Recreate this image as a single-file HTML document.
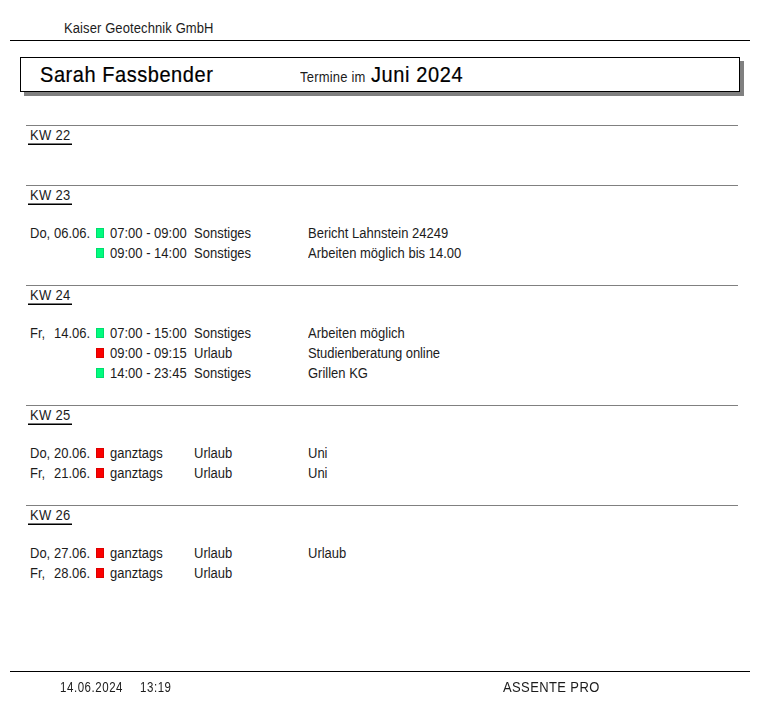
<!DOCTYPE html>
<html><head><meta charset="utf-8"><style>
html,body{margin:0;padding:0;background:#fff;width:780px;height:711px;overflow:hidden;position:relative}
.t{position:absolute;font-family:"Liberation Sans",sans-serif;color:#1c1c1c;white-space:pre}
.r{position:absolute}
</style></head><body>
<div class="t" style="left:64px;top:22px;font-size:13px;line-height:13px;transform-origin:0 11px;transform:scaleY(1.1);letter-spacing:0.1px;">Kaiser Geotechnik GmbH</div>
<div class="r" style="left:10px;top:40px;width:740px;height:1px;background:#000;"></div>
<div class="r" style="left:24px;top:61px;width:720px;height:35px;background:#808080;"></div>
<div class="r" style="left:20px;top:57px;width:720px;height:35px;background:#fff;box-sizing:border-box;border:1px solid #000;"></div>
<div class="t" style="left:40px;top:65px;font-size:20px;line-height:20px;transform-origin:0 17px;transform:scaleY(1.07);letter-spacing:0.55px;-webkit-text-stroke:0.2px #000;color:#000;">Sarah Fassbender</div>
<div class="t" style="left:300px;top:71px;font-size:13px;line-height:13px;transform-origin:0 11px;transform:scaleY(1.1);letter-spacing:0.2px;">Termine im</div>
<div class="t" style="left:371px;top:65px;font-size:20px;line-height:20px;transform-origin:0 17px;transform:scaleY(1.07);letter-spacing:0.6px;-webkit-text-stroke:0.2px #000;color:#000;">Juni 2024</div>
<div class="r" style="left:26px;top:125px;width:712px;height:1px;background:#808080;"></div>
<div class="t" style="left:30px;top:129px;font-size:13px;line-height:13px;transform-origin:0 11px;transform:scaleY(1.1);letter-spacing:0.3px;">KW 22</div>
<div class="r" style="left:28px;top:143px;width:44px;height:1px;background:#7a7a7a;"></div>
<div class="r" style="left:28px;top:144px;width:44px;height:1px;background:#000;"></div>
<div class="r" style="left:26px;top:185px;width:712px;height:1px;background:#808080;"></div>
<div class="t" style="left:30px;top:189px;font-size:13px;line-height:13px;transform-origin:0 11px;transform:scaleY(1.1);letter-spacing:0.3px;">KW 23</div>
<div class="r" style="left:28px;top:203px;width:44px;height:1px;background:#7a7a7a;"></div>
<div class="r" style="left:28px;top:204px;width:44px;height:1px;background:#000;"></div>
<div class="t" style="left:30px;top:227px;font-size:13px;line-height:13px;transform-origin:0 11px;transform:scaleY(1.1);">Do,</div>
<div class="t" style="left:54px;top:227px;font-size:13px;line-height:13px;transform-origin:0 11px;transform:scaleY(1.1);">06.06.</div>
<div class="r" style="left:96px;top:228px;width:8px;height:10px;background:#00fc7e;box-shadow:inset 0 0 0 1px rgba(0,0,0,0.12)"></div>
<div class="t" style="left:110px;top:227px;font-size:13px;line-height:13px;transform-origin:0 11px;transform:scaleY(1.1);">07:00 - 09:00</div>
<div class="t" style="left:194px;top:227px;font-size:13px;line-height:13px;transform-origin:0 11px;transform:scaleY(1.1);">Sonstiges</div>
<div class="t" style="left:308px;top:227px;font-size:13px;line-height:13px;transform-origin:0 11px;transform:scaleY(1.1);">Bericht Lahnstein 24249</div>
<div class="r" style="left:96px;top:248px;width:8px;height:10px;background:#00fc7e;box-shadow:inset 0 0 0 1px rgba(0,0,0,0.12)"></div>
<div class="t" style="left:110px;top:247px;font-size:13px;line-height:13px;transform-origin:0 11px;transform:scaleY(1.1);">09:00 - 14:00</div>
<div class="t" style="left:194px;top:247px;font-size:13px;line-height:13px;transform-origin:0 11px;transform:scaleY(1.1);">Sonstiges</div>
<div class="t" style="left:308px;top:247px;font-size:13px;line-height:13px;transform-origin:0 11px;transform:scaleY(1.1);">Arbeiten möglich bis 14.00</div>
<div class="r" style="left:26px;top:285px;width:712px;height:1px;background:#808080;"></div>
<div class="t" style="left:30px;top:289px;font-size:13px;line-height:13px;transform-origin:0 11px;transform:scaleY(1.1);letter-spacing:0.3px;">KW 24</div>
<div class="r" style="left:28px;top:303px;width:44px;height:1px;background:#7a7a7a;"></div>
<div class="r" style="left:28px;top:304px;width:44px;height:1px;background:#000;"></div>
<div class="t" style="left:30px;top:327px;font-size:13px;line-height:13px;transform-origin:0 11px;transform:scaleY(1.1);">Fr,</div>
<div class="t" style="left:54px;top:327px;font-size:13px;line-height:13px;transform-origin:0 11px;transform:scaleY(1.1);">14.06.</div>
<div class="r" style="left:96px;top:328px;width:8px;height:10px;background:#00fc7e;box-shadow:inset 0 0 0 1px rgba(0,0,0,0.12)"></div>
<div class="t" style="left:110px;top:327px;font-size:13px;line-height:13px;transform-origin:0 11px;transform:scaleY(1.1);">07:00 - 15:00</div>
<div class="t" style="left:194px;top:327px;font-size:13px;line-height:13px;transform-origin:0 11px;transform:scaleY(1.1);">Sonstiges</div>
<div class="t" style="left:308px;top:327px;font-size:13px;line-height:13px;transform-origin:0 11px;transform:scaleY(1.1);">Arbeiten möglich</div>
<div class="r" style="left:96px;top:348px;width:8px;height:10px;background:#fc0000;box-shadow:inset 0 0 0 1px rgba(0,0,0,0.12)"></div>
<div class="t" style="left:110px;top:347px;font-size:13px;line-height:13px;transform-origin:0 11px;transform:scaleY(1.1);">09:00 - 09:15</div>
<div class="t" style="left:194px;top:347px;font-size:13px;line-height:13px;transform-origin:0 11px;transform:scaleY(1.1);">Urlaub</div>
<div class="t" style="left:308px;top:347px;font-size:13px;line-height:13px;transform-origin:0 11px;transform:scaleY(1.1);letter-spacing:-0.08px;">Studienberatung online</div>
<div class="r" style="left:96px;top:368px;width:8px;height:10px;background:#00fc7e;box-shadow:inset 0 0 0 1px rgba(0,0,0,0.12)"></div>
<div class="t" style="left:110px;top:367px;font-size:13px;line-height:13px;transform-origin:0 11px;transform:scaleY(1.1);">14:00 - 23:45</div>
<div class="t" style="left:194px;top:367px;font-size:13px;line-height:13px;transform-origin:0 11px;transform:scaleY(1.1);">Sonstiges</div>
<div class="t" style="left:308px;top:367px;font-size:13px;line-height:13px;transform-origin:0 11px;transform:scaleY(1.1);">Grillen KG</div>
<div class="r" style="left:26px;top:405px;width:712px;height:1px;background:#808080;"></div>
<div class="t" style="left:30px;top:409px;font-size:13px;line-height:13px;transform-origin:0 11px;transform:scaleY(1.1);letter-spacing:0.3px;">KW 25</div>
<div class="r" style="left:28px;top:423px;width:44px;height:1px;background:#7a7a7a;"></div>
<div class="r" style="left:28px;top:424px;width:44px;height:1px;background:#000;"></div>
<div class="t" style="left:30px;top:447px;font-size:13px;line-height:13px;transform-origin:0 11px;transform:scaleY(1.1);">Do,</div>
<div class="t" style="left:54px;top:447px;font-size:13px;line-height:13px;transform-origin:0 11px;transform:scaleY(1.1);">20.06.</div>
<div class="r" style="left:96px;top:448px;width:8px;height:10px;background:#fc0000;box-shadow:inset 0 0 0 1px rgba(0,0,0,0.12)"></div>
<div class="t" style="left:110px;top:447px;font-size:13px;line-height:13px;transform-origin:0 11px;transform:scaleY(1.1);">ganztags</div>
<div class="t" style="left:194px;top:447px;font-size:13px;line-height:13px;transform-origin:0 11px;transform:scaleY(1.1);">Urlaub</div>
<div class="t" style="left:308px;top:447px;font-size:13px;line-height:13px;transform-origin:0 11px;transform:scaleY(1.1);">Uni</div>
<div class="t" style="left:30px;top:467px;font-size:13px;line-height:13px;transform-origin:0 11px;transform:scaleY(1.1);">Fr,</div>
<div class="t" style="left:54px;top:467px;font-size:13px;line-height:13px;transform-origin:0 11px;transform:scaleY(1.1);">21.06.</div>
<div class="r" style="left:96px;top:468px;width:8px;height:10px;background:#fc0000;box-shadow:inset 0 0 0 1px rgba(0,0,0,0.12)"></div>
<div class="t" style="left:110px;top:467px;font-size:13px;line-height:13px;transform-origin:0 11px;transform:scaleY(1.1);">ganztags</div>
<div class="t" style="left:194px;top:467px;font-size:13px;line-height:13px;transform-origin:0 11px;transform:scaleY(1.1);">Urlaub</div>
<div class="t" style="left:308px;top:467px;font-size:13px;line-height:13px;transform-origin:0 11px;transform:scaleY(1.1);">Uni</div>
<div class="r" style="left:26px;top:505px;width:712px;height:1px;background:#808080;"></div>
<div class="t" style="left:30px;top:509px;font-size:13px;line-height:13px;transform-origin:0 11px;transform:scaleY(1.1);letter-spacing:0.3px;">KW 26</div>
<div class="r" style="left:28px;top:523px;width:44px;height:1px;background:#7a7a7a;"></div>
<div class="r" style="left:28px;top:524px;width:44px;height:1px;background:#000;"></div>
<div class="t" style="left:30px;top:547px;font-size:13px;line-height:13px;transform-origin:0 11px;transform:scaleY(1.1);">Do,</div>
<div class="t" style="left:54px;top:547px;font-size:13px;line-height:13px;transform-origin:0 11px;transform:scaleY(1.1);">27.06.</div>
<div class="r" style="left:96px;top:548px;width:8px;height:10px;background:#fc0000;box-shadow:inset 0 0 0 1px rgba(0,0,0,0.12)"></div>
<div class="t" style="left:110px;top:547px;font-size:13px;line-height:13px;transform-origin:0 11px;transform:scaleY(1.1);">ganztags</div>
<div class="t" style="left:194px;top:547px;font-size:13px;line-height:13px;transform-origin:0 11px;transform:scaleY(1.1);">Urlaub</div>
<div class="t" style="left:308px;top:547px;font-size:13px;line-height:13px;transform-origin:0 11px;transform:scaleY(1.1);">Urlaub</div>
<div class="t" style="left:30px;top:567px;font-size:13px;line-height:13px;transform-origin:0 11px;transform:scaleY(1.1);">Fr,</div>
<div class="t" style="left:54px;top:567px;font-size:13px;line-height:13px;transform-origin:0 11px;transform:scaleY(1.1);">28.06.</div>
<div class="r" style="left:96px;top:568px;width:8px;height:10px;background:#fc0000;box-shadow:inset 0 0 0 1px rgba(0,0,0,0.12)"></div>
<div class="t" style="left:110px;top:567px;font-size:13px;line-height:13px;transform-origin:0 11px;transform:scaleY(1.1);">ganztags</div>
<div class="t" style="left:194px;top:567px;font-size:13px;line-height:13px;transform-origin:0 11px;transform:scaleY(1.1);">Urlaub</div>
<div class="r" style="left:10px;top:671px;width:740px;height:1px;background:#000;"></div>
<div class="t" style="left:60px;top:683px;font-size:11.5px;line-height:11.5px;transform-origin:0 10px;transform:scaleY(1.2);letter-spacing:0.55px;will-change:transform;">14.06.2024</div>
<div class="t" style="left:140px;top:683px;font-size:11.5px;line-height:11.5px;transform-origin:0 10px;transform:scaleY(1.2);letter-spacing:0.55px;will-change:transform;">13:19</div>
<div class="t" style="left:503px;top:681px;font-size:13px;line-height:13px;transform-origin:0 11px;transform:scaleY(1.1);letter-spacing:0.38px;will-change:transform;">ASSENTE PRO</div>
</body></html>
